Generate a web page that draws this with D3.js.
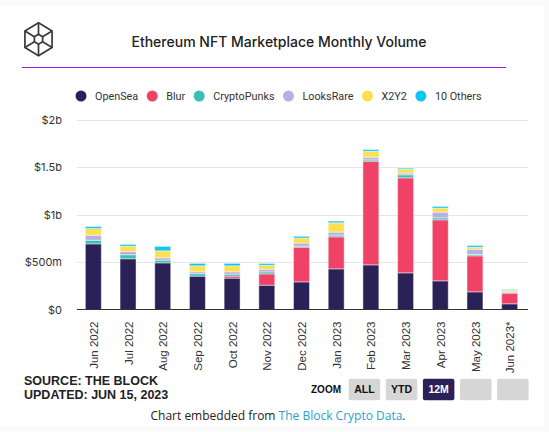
<!DOCTYPE html>
<html><head><meta charset="utf-8">
<script src="https://cdn.jsdelivr.net/npm/d3@7/dist/d3.min.js"></script>
<style>
html,body{margin:0;padding:0;background:#fafafa;}
svg{display:block;}
</style></head>
<body>
<svg id="chart" width="549" height="432"></svg>
<script>
const months = ["Jun 2022","Jul 2022","Aug 2022","Sep 2022","Oct 2022","Nov 2022","Dec 2022","Jan 2023","Feb 2023","Mar 2023","Apr 2023","May 2023","Jun 2023*"];
const seriesNames = ["OpenSea","Blur","CryptoPunks","LooksRare","X2Y2","10 Others"];
const seriesColors = ["#2a2157","#f04266","#3bbfb0","#b8b0e0","#fde050","#10c5ef"];
// values in $ millions
const openSea     = [691,534,491,351,330,256,291,428,470,386,302,186,60];
const blur        = [0,0,0,0,21,119,365,337,1091,1000,642,379,112];
const cryptoPunks = [38,42,28,25,21,21,11,18,14,32,21,14,7];
const looksRare   = [53,35,25,21,25,28,32,32,28,18,60,56,14];
const x2y2        = [70,56,74,63,63,42,53,98,63,42,42,21,14];
const others      = [21,18,46,25,25,18,18,18,18,11,18,18,5];
const yTicks = [0,500,1000,1500,2000];
const yTickLabels = ["$0","$500m","$1b","$1.5b","$2b"];
const zoomButtons = ["ALL","YTD","12M","",""];
const activeButton = "12M";

const svg = d3.select("#chart");
svg.append("rect").attr("x",0).attr("y",6).attr("width",544).attr("height",420).attr("fill","#fff");

// header logo
const lg = svg.append("g").attr("fill","none").attr("stroke","#3a3a3a").attr("stroke-width",1.7);
const cx=38.5, cy=39.3, R=16.5, r=5;
const hex = (rad)=>d3.range(6).map(i=>{const a=Math.PI/3*i - Math.PI/2; return [cx+rad*Math.cos(a)*0.95, cy+rad*Math.sin(a)];});
const outer = hex(R), inner = hex(r);
lg.append("path").attr("d","M"+outer.map(p=>p.join(",")).join("L")+"Z");
lg.append("path").attr("d","M"+inner.map(p=>p.join(",")).join("L")+"Z");
d3.range(6).forEach(i=>lg.append("line").attr("x1",inner[i][0]).attr("y1",inner[i][1]).attr("x2",outer[i][0]).attr("y2",outer[i][1]));

svg.append("text").attr("x",279).attr("y",47).attr("text-anchor","middle")
  .attr("font-family","Inter, Roboto, sans-serif").attr("font-size",14).attr("font-weight",500).attr("fill","#222")
  .text("Ethereum NFT Marketplace Monthly Volume");
svg.append("line").attr("x1",22).attr("x2",506).attr("y1",67.5).attr("y2",67.5).attr("stroke","#9b1de0").attr("stroke-width",1);

// legend
const leg = svg.append("g").attr("font-family","Roboto, sans-serif").attr("font-size",10.8).attr("fill","#333");
let lx = 81;
seriesNames.forEach((n,i)=>{
  leg.append("circle").attr("cx",lx).attr("cy",96).attr("r",5.5).attr("fill",seriesColors[i]);
  const t = leg.append("text").attr("x",lx+14).attr("y",100).text(n);
  lx += 14 + t.node().getComputedTextLength() + 14;
});

// scales
const x = d3.scaleBand().domain(months).range([76,527]).paddingInner(0.54).paddingOuter(0.27);
const y = d3.scaleLinear().domain([0,2000]).range([309.5,119.5]);

// grid
svg.append("g").selectAll("line").data(yTicks.slice(1)).join("line")
  .attr("x1",77).attr("x2",528).attr("y1",d=>Math.round(y(d))+0.5).attr("y2",d=>Math.round(y(d))+0.5)
  .attr("stroke","#e6e6e6").attr("stroke-width",1);

// y axis
const yAxis = d3.axisLeft(y).tickValues(yTicks).tickFormat((d,i)=>yTickLabels[i]).tickSize(0).tickPadding(0);
const yg = svg.append("g").attr("transform","translate(62,0)").call(yAxis);
yg.select(".domain").remove();
yg.selectAll("text").attr("font-family","Inter, Roboto, sans-serif").attr("font-size",11).attr("fill","#333").attr("dy","0.35em");

// stack
const rows = months.map((m,i)=>({month:m, "OpenSea":openSea[i], "Blur":blur[i], "CryptoPunks":cryptoPunks[i], "LooksRare":looksRare[i], "X2Y2":x2y2[i], "10 Others":others[i]}));
const stacked = d3.stack().keys(seriesNames)(rows);
svg.append("g").selectAll("g").data(stacked).join("g")
  .attr("fill",(d,i)=>seriesColors[i])
  .selectAll("rect").data(d=>d).join("rect")
  .attr("x",d=>x(d.data.month)).attr("width",x.bandwidth())
  .attr("y",d=>y(d[1])).attr("height",d=>Math.max(0,y(d[0])-y(d[1])))
  .attr("stroke","#fff").attr("stroke-opacity",0.45).attr("stroke-width",1);

// x axis
const xAxis = d3.axisBottom(x).tickSize(0).tickPadding(0);
const xg = svg.append("g").attr("transform","translate(0,309.5)").call(xAxis);
xg.select(".domain").attr("stroke","#333").attr("d","M77,0H528");
xg.selectAll("text").attr("font-family","Liberation Sans, Arial, sans-serif").attr("font-size",11.5).attr("fill","#333")
  .attr("transform","rotate(-90)").attr("text-anchor","end").attr("x",-12).attr("y",0).attr("dy","0.4em").attr("dx",0);

// footer
const ft = svg.append("g").attr("font-family","Liberation Sans, Arial, sans-serif").attr("font-weight","bold").attr("fill","#222").attr("font-size",12.5);
ft.append("text").attr("x",24).attr("y",385).text("SOURCE: THE BLOCK");
ft.append("text").attr("x",24).attr("y",398.5).text("UPDATED: JUN 15, 2023");

svg.append("text").attr("x",311).attr("y",393).attr("font-family","Liberation Sans, Arial, sans-serif").attr("font-weight","bold").attr("font-size",10).attr("fill","#111").text("ZOOM");
const bg = svg.append("g");
zoomButtons.forEach((b,i)=>{
  const bx = 348.7 + i*37.1;
  const act = b===activeButton;
  bg.append("rect").attr("x",bx).attr("y",378.7).attr("width",31.5).attr("height",21.5).attr("rx",2)
    .attr("fill",act?"#2a2157":"#d6d6d6");
  if(b) bg.append("text").attr("x",bx+15.75).attr("y",393.2).attr("text-anchor","middle")
    .attr("font-family","Liberation Sans, Arial, sans-serif").attr("font-weight","bold").attr("font-size",10.5)
    .attr("fill",act?"#fff":"#111").text(b);
});

const emb = svg.append("text").attr("x",278).attr("y",420).attr("text-anchor","middle")
  .attr("font-family","Open Sans, sans-serif").attr("font-size",12).attr("fill","#222");
emb.append("tspan").text("Chart embedded from ");
emb.append("tspan").attr("fill","#2a9fd0").text("The Block Crypto Data");
emb.append("tspan").text(".");
</script>
</body></html>
